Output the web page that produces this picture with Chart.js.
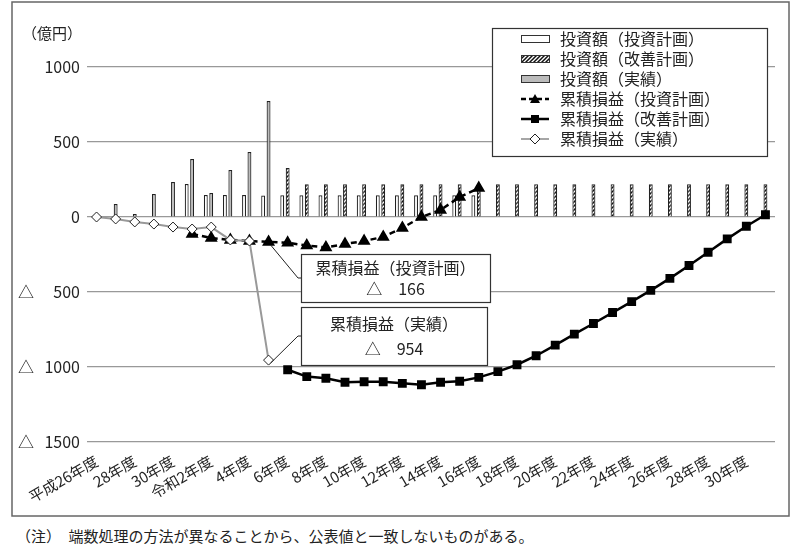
<!DOCTYPE html>
<html><head><meta charset="utf-8">
<script src="https://cdn.jsdelivr.net/npm/chart.js@4"></script>
<style>
body{margin:0;background:#fff;font-family:"Noto Sans CJK JP",sans-serif;}
#wrap{position:absolute;left:0;top:0;width:800px;height:520px;}
#note{position:absolute;left:16px;top:525px;font-size:15px;color:#222;}
</style></head><body>
<div id="wrap"><canvas id="c"></canvas></div>
<div id="note">（注）　端数処理の方法が異なることから、公表値と一致しないものがある。</div>
<script>
const categories = ["平成26年度","27年度","28年度","29年度","30年度","令和元年度","2年度","3年度","4年度","5年度","6年度","7年度","8年度","9年度","10年度","11年度","12年度","13年度","14年度","15年度","16年度","17年度","18年度","19年度","20年度","21年度","22年度","23年度","24年度","25年度","26年度","27年度","28年度","29年度","30年度","31年度"];
const tickLabels = ["平成26年度","","28年度","","30年度","","令和2年度","","4年度","","6年度","","8年度","","10年度","","12年度","","14年度","","16年度","","18年度","","20年度","","22年度","","24年度","","26年度","","28年度","","30年度",""];
const N = null;
const invPlan   = [N,N,N,N,N,220,147,147,147,143,145,145,145,145,145,145,145,145,145,145,145,N,N,N,N,N,N,N,N,N,N,N,N,N,N,N];
const invImprove= [N,N,N,N,N,N,N,N,N,N,327,218,218,218,218,218,218,218,218,218,218,218,218,218,218,218,218,218,218,218,218,218,218,218,218,218];
const invActual = [N,87,20,153,233,387,160,313,433,773,N,N,N,N,N,N,N,N,N,N,N,N,N,N,N,N,N,N,N,N,N,N,N,N,N,N];
const cumPlan   = [N,N,N,N,N,-113,-140,-153,-160,-166,-172,-190,-203,-180,-160,-133,-73,0,47,133,193,N,N,N,N,N,N,N,N,N,N,N,N,N,N,N];
const cumImprove= [N,N,N,N,N,N,N,N,N,N,-1018,-1064,-1075,-1102,-1098,-1098,-1109,-1118,-1102,-1095,-1069,-1031,-985,-925,-854,-781,-710,-637,-564,-489,-409,-323,-235,-146,-62,15];
const cumActual = [0,-13,-33,-47,-67,-80,-67,-153,-160,-954,N,N,N,N,N,N,N,N,N,N,N,N,N,N,N,N,N,N,N,N,N,N,N,N,N,N];
const yTicks = [1000,500,0,-500,-1000,-1500];
const legendLabels = ["投資額（投資計画）","投資額（改善計画）","投資額（実績）","累積損益（投資計画）","累積損益（改善計画）","累積損益（実績）"];

function hatch(){
  const p=document.createElement('canvas');p.width=4;p.height=4;
  const g=p.getContext('2d');g.fillStyle='#fff';g.fillRect(0,0,4,4);
  g.strokeStyle='#111';g.lineWidth=1.5;
  g.beginPath();g.moveTo(-1,5);g.lineTo(5,-1);g.moveTo(-1,1);g.lineTo(1,-1);g.moveTo(3,5);g.lineTo(5,3);g.stroke();
  return g.createPattern(p,'repeat');
}
const hp = hatch();
const FONT = '"Noto Sans CJK JP", sans-serif';

const deco = {
  id:'deco',
  afterDraw(chart){
    const ctx=chart.ctx, y=chart.scales.y, x=chart.scales.x;
    ctx.save();
    ctx.strokeStyle='#666';ctx.lineWidth=1.5;ctx.strokeRect(12,2,777,514);
    ctx.fillStyle='#222';ctx.font='15px '+FONT;ctx.textBaseline='middle';
    ctx.textAlign='left';ctx.fillText('（億円）',22,33);
    ctx.font='16px '+FONT;
    yTicks.forEach(v=>{
      const py=y.getPixelForValue(v);
      ctx.textAlign='right';ctx.fillText(String(Math.abs(v)),80,py);
      if(v<0){ctx.textAlign='left';ctx.fillText('△',18,py);}
    });
    function callout(bx,by,bw,bh,t1,t2,idx,val,ly){
      const px=x.getPixelForValue(idx), py=y.getPixelForValue(val);
      ctx.strokeStyle='#222';ctx.lineWidth=1;
      ctx.beginPath();ctx.moveTo(px+2,py+3);ctx.lineTo(bx-3,ly);ctx.lineTo(bx,ly);ctx.stroke();
      ctx.fillStyle='#fff';ctx.fillRect(bx,by,bw,bh);
      ctx.strokeStyle='#333';ctx.lineWidth=1.2;ctx.strokeRect(bx+0.5,by+0.5,bw,bh);
      ctx.fillStyle='#222';ctx.font='16px '+FONT;ctx.textAlign='center';
      ctx.fillText(t1,bx+bw/2,by+bh*0.3);ctx.fillText(t2,bx+bw/2,by+bh*0.73);
    }
    callout(301,254,189,48,'累積損益（投資計画）','△　166',9,-166,278);
    callout(301,307,186,58,'累積損益（実績）','△　954',9,-954,336);
    const lx=492,ly=28,lw=275,lh=128;
    ctx.fillStyle='#fff';ctx.fillRect(lx,ly,lw,lh);
    ctx.strokeStyle='#333';ctx.lineWidth=1.2;ctx.strokeRect(lx+0.5,ly+0.5,lw,lh);
    const rows=[39,59,79,99,119,139];
    rows.forEach((ry,i)=>{
      const sx=521, ex=549, cx=(sx+ex)/2;
      ctx.lineWidth=1;ctx.setLineDash([]);
      if(i===0){ctx.fillStyle='#fff';ctx.fillRect(sx,ry-4,ex-sx,8);ctx.strokeStyle='#333';ctx.strokeRect(sx+0.5,ry-3.5,ex-sx,7);}
      if(i===1){ctx.fillStyle=hp;ctx.fillRect(sx,ry-4,ex-sx,8);ctx.strokeStyle='#333';ctx.strokeRect(sx+0.5,ry-3.5,ex-sx,7);}
      if(i===2){ctx.fillStyle='#bbb';ctx.fillRect(sx,ry-4,ex-sx,8);ctx.strokeStyle='#333';ctx.strokeRect(sx+0.5,ry-3.5,ex-sx,7);}
      if(i===3){ctx.strokeStyle='#000';ctx.lineWidth=2.5;ctx.setLineDash([5,3]);ctx.beginPath();ctx.moveTo(sx,ry);ctx.lineTo(ex,ry);ctx.stroke();ctx.setLineDash([]);
        ctx.fillStyle='#000';ctx.beginPath();ctx.moveTo(cx,ry-5);ctx.lineTo(cx+5,ry+4);ctx.lineTo(cx-5,ry+4);ctx.closePath();ctx.fill();}
      if(i===4){ctx.strokeStyle='#000';ctx.lineWidth=2.5;ctx.beginPath();ctx.moveTo(sx,ry);ctx.lineTo(ex,ry);ctx.stroke();ctx.fillStyle='#000';ctx.fillRect(cx-4,ry-4,8,8);}
      if(i===5){ctx.strokeStyle='#888';ctx.lineWidth=1.5;ctx.beginPath();ctx.moveTo(sx,ry);ctx.lineTo(ex,ry);ctx.stroke();
        ctx.fillStyle='#fff';ctx.strokeStyle='#222';ctx.lineWidth=1;ctx.beginPath();ctx.moveTo(cx,ry-5);ctx.lineTo(cx+5,ry);ctx.lineTo(cx,ry+5);ctx.lineTo(cx-5,ry);ctx.closePath();ctx.fill();ctx.stroke();}
      ctx.fillStyle='#222';ctx.font='16px '+FONT;ctx.textAlign='left';ctx.textBaseline='middle';
      ctx.fillText(legendLabels[i],560,ry);
    });
    ctx.restore();
  }
};

new Chart(document.getElementById('c'),{
  data:{labels:categories,datasets:[
    {type:'line',label:legendLabels[3],data:cumPlan,borderColor:'#000',borderWidth:2.5,borderDash:[6,4],pointStyle:'triangle',pointRadius:5,pointBackgroundColor:'#000',pointBorderColor:'#000',stack:'l1',order:1},
    {type:'line',label:legendLabels[4],data:cumImprove,borderColor:'#000',borderWidth:2.5,pointStyle:'rect',pointRadius:4.5,pointBackgroundColor:'#000',pointBorderColor:'#000',stack:'l2',order:2},
    {type:'line',label:legendLabels[5],data:cumActual,borderColor:'#999',borderWidth:2,pointStyle:'rectRot',pointRadius:5,pointBackgroundColor:'#fff',pointBorderColor:'#222',pointBorderWidth:1,stack:'l3',order:0},
    {type:'bar',label:legendLabels[0],data:invPlan,backgroundColor:'#fff',borderColor:'#222',borderWidth:1.2,stack:'a',order:5},
    {type:'bar',label:legendLabels[1],data:invImprove,backgroundColor:hp,borderColor:'#222',borderWidth:1.2,stack:'b',order:5},
    {type:'bar',label:legendLabels[2],data:invActual,backgroundColor:'#bbb',borderColor:'#222',borderWidth:1.2,stack:'b',order:5}
  ]},
  options:{
    responsive:true,maintainAspectRatio:false,animation:false,
    layout:{padding:{left:87,right:25,top:67,bottom:0}},
    datasets:{bar:{categoryPercentage:0.85,barPercentage:0.72}},
    plugins:{legend:{display:false},tooltip:{enabled:false}},
    scales:{
      x:{stacked:false,grid:{display:false},border:{display:false},
        ticks:{autoSkip:false,maxRotation:30,minRotation:30,color:'#222',padding:2,font:{family:FONT,size:15},callback:(v,i)=>tickLabels[i]},
        afterFit:s=>{s.height=78;}},
      y:{stacked:true,min:-1500,max:1000,afterBuildTicks:s=>{s.ticks=yTicks.map(v=>({value:v}));},
        grid:{color:'#999',lineWidth:1.2,drawTicks:false},border:{display:false},
        ticks:{display:false},afterFit:s=>{s.width=0;}}
    }
  },
  plugins:[deco]
});
</script></body></html>
